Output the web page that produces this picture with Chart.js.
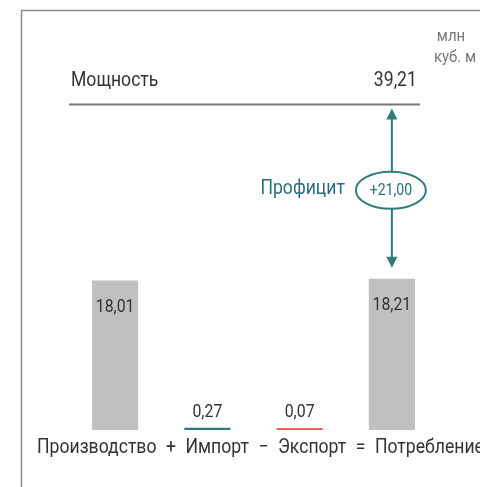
<!DOCTYPE html>
<html>
<head>
<meta charset="utf-8">
<script src="https://cdn.jsdelivr.net/npm/chart.js@4/dist/chart.umd.min.js"></script>
<style>
  html, body { margin: 0; padding: 0; background: #fff; overflow: hidden; }
  #wrap { position: relative; width: 480px; height: 487px; }
</style>
</head>
<body>
<div id="wrap"><canvas id="balance" width="480" height="487"></canvas></div>
<script>
const categories = ['Производство', 'Импорт', 'Экспорт', 'Потребление'];
const operators = ['+', '−', '='];
const values = [18.01, 0.27, 0.07, 18.21];
const barColors = ['#c0c0c0', '#2e7d7a', '#e8615f', '#c0c0c0'];
const capacityLabel = 'Мощность';
const capacity = 39.21;
const surplusLabel = 'Профицит';
const surplus = 21.00;
const unitLines = ['млн', 'куб. м'];

const fmt = v => v.toFixed(2).replace('.', ',');
const TEAL = '#2e7d7a';
const SQ = 0.88; // squeeze text horizontally, the original uses a condensed face

function txt(ctx, s, x, y, size, align, color, baseline) {
  ctx.save();
  ctx.font = size + 'px Roboto';
  ctx.fillStyle = color;
  ctx.textAlign = align;
  ctx.textBaseline = baseline || 'alphabetic';
  ctx.translate(x, y);
  ctx.scale(SQ, 1);
  ctx.fillText(s, 0, 0);
  ctx.restore();
}

// everything that is not a bar: frame, capacity line, arrow, labels
const extras = {
  id: 'extras',
  afterDraw(chart) {
    const ctx = chart.ctx;
    const x = chart.scales.x, y = chart.scales.y;
    const area = chart.chartArea;
    ctx.save();

    // frame
    ctx.strokeStyle = '#8a8a8a';
    ctx.lineWidth = 1.5;
    ctx.beginPath();
    ctx.moveTo(480, 10.5);
    ctx.lineTo(21.5, 10.5);
    ctx.lineTo(21.5, 487);
    ctx.stroke();

    // unit
    txt(ctx, unitLines[0], 451, 41, 17, 'center', '#777');
    txt(ctx, unitLines[1], 455, 62, 17, 'center', '#777');

    // capacity line
    const lastX = x.getPixelForValue(categories.length - 1);
    const capY = y.getPixelForValue(capacity);
    const lineEnd = lastX + 28;
    ctx.strokeStyle = '#777';
    ctx.lineWidth = 2;
    ctx.beginPath();
    ctx.moveTo(area.left, capY);
    ctx.lineTo(lineEnd, capY);
    ctx.stroke();
    txt(ctx, capacityLabel, area.left + 2, capY - 19, 20, 'left', '#333');
    txt(ctx, fmt(capacity), lineEnd - 3, capY - 19, 20, 'right', '#333');

    // surplus arrow
    const topY = capY + 4;
    const botY = y.getPixelForValue(values[values.length - 1]) - 11;
    const midY = (topY + botY) / 2 + 2;
    ctx.strokeStyle = TEAL;
    ctx.fillStyle = TEAL;
    ctx.lineWidth = 2;
    ctx.beginPath();
    ctx.moveTo(lastX, topY + 8);
    ctx.lineTo(lastX, midY - 18);
    ctx.moveTo(lastX, midY + 18);
    ctx.lineTo(lastX, botY - 8);
    ctx.stroke();
    ctx.beginPath();
    ctx.moveTo(lastX, topY);
    ctx.lineTo(lastX - 5.5, topY + 11);
    ctx.lineTo(lastX + 5.5, topY + 11);
    ctx.closePath();
    ctx.fill();
    ctx.beginPath();
    ctx.moveTo(lastX, botY);
    ctx.lineTo(lastX - 5.5, botY - 11);
    ctx.lineTo(lastX + 5.5, botY - 11);
    ctx.closePath();
    ctx.fill();
    ctx.beginPath();
    ctx.ellipse(lastX - 1, midY, 35, 18.5, 0, 0, Math.PI * 2);
    ctx.stroke();
    txt(ctx, '+' + fmt(surplus), lastX - 1, midY + 1, 16, 'center', '#2b6c7e', 'middle');
    txt(ctx, surplusLabel, lastX - 47, midY - 1, 20, 'right', '#2b6c7e', 'middle');

    // value labels
    chart.getDatasetMeta(0).data.forEach((bar, i) => {
      const h = bar.base - bar.y;
      if (h > 30) {
        txt(ctx, fmt(values[i]), bar.x, bar.y + 18, 18, 'center', '#333', 'top');
      } else {
        txt(ctx, fmt(values[i]), bar.x, bar.y - 11, 18, 'center', '#333');
      }
    });

    // formula line under the bars
    const tokens = [categories[0]];
    operators.forEach((op, i) => tokens.push(op, categories[i + 1]));
    ctx.font = '20px Roboto';
    let cx = 37;
    tokens.forEach(t => {
      txt(ctx, t, cx, area.bottom + 23, 20, 'left', '#333');
      cx += ctx.measureText(t).width * SQ + 9.5;
    });

    ctx.restore();
  }
};

function draw() {
  new Chart(document.getElementById('balance'), {
    type: 'bar',
    data: {
      labels: categories,
      datasets: [{
        data: values,
        backgroundColor: barColors,
        borderWidth: 0,
        minBarLength: 2,
        categoryPercentage: 1,
        barPercentage: 0.5
      }]
    },
    options: {
      responsive: false,
      animation: false,
      layout: { padding: { left: 69, right: 42, top: 15, bottom: 57 } },
      plugins: { legend: { display: false }, tooltip: { enabled: false } },
      scales: {
        x: { display: false },
        y: { display: false, min: 0, max: 50 }
      }
    },
    plugins: [extras]
  });
}

document.fonts.load('20px Roboto').then(draw, draw);
</script>
</body>
</html>
